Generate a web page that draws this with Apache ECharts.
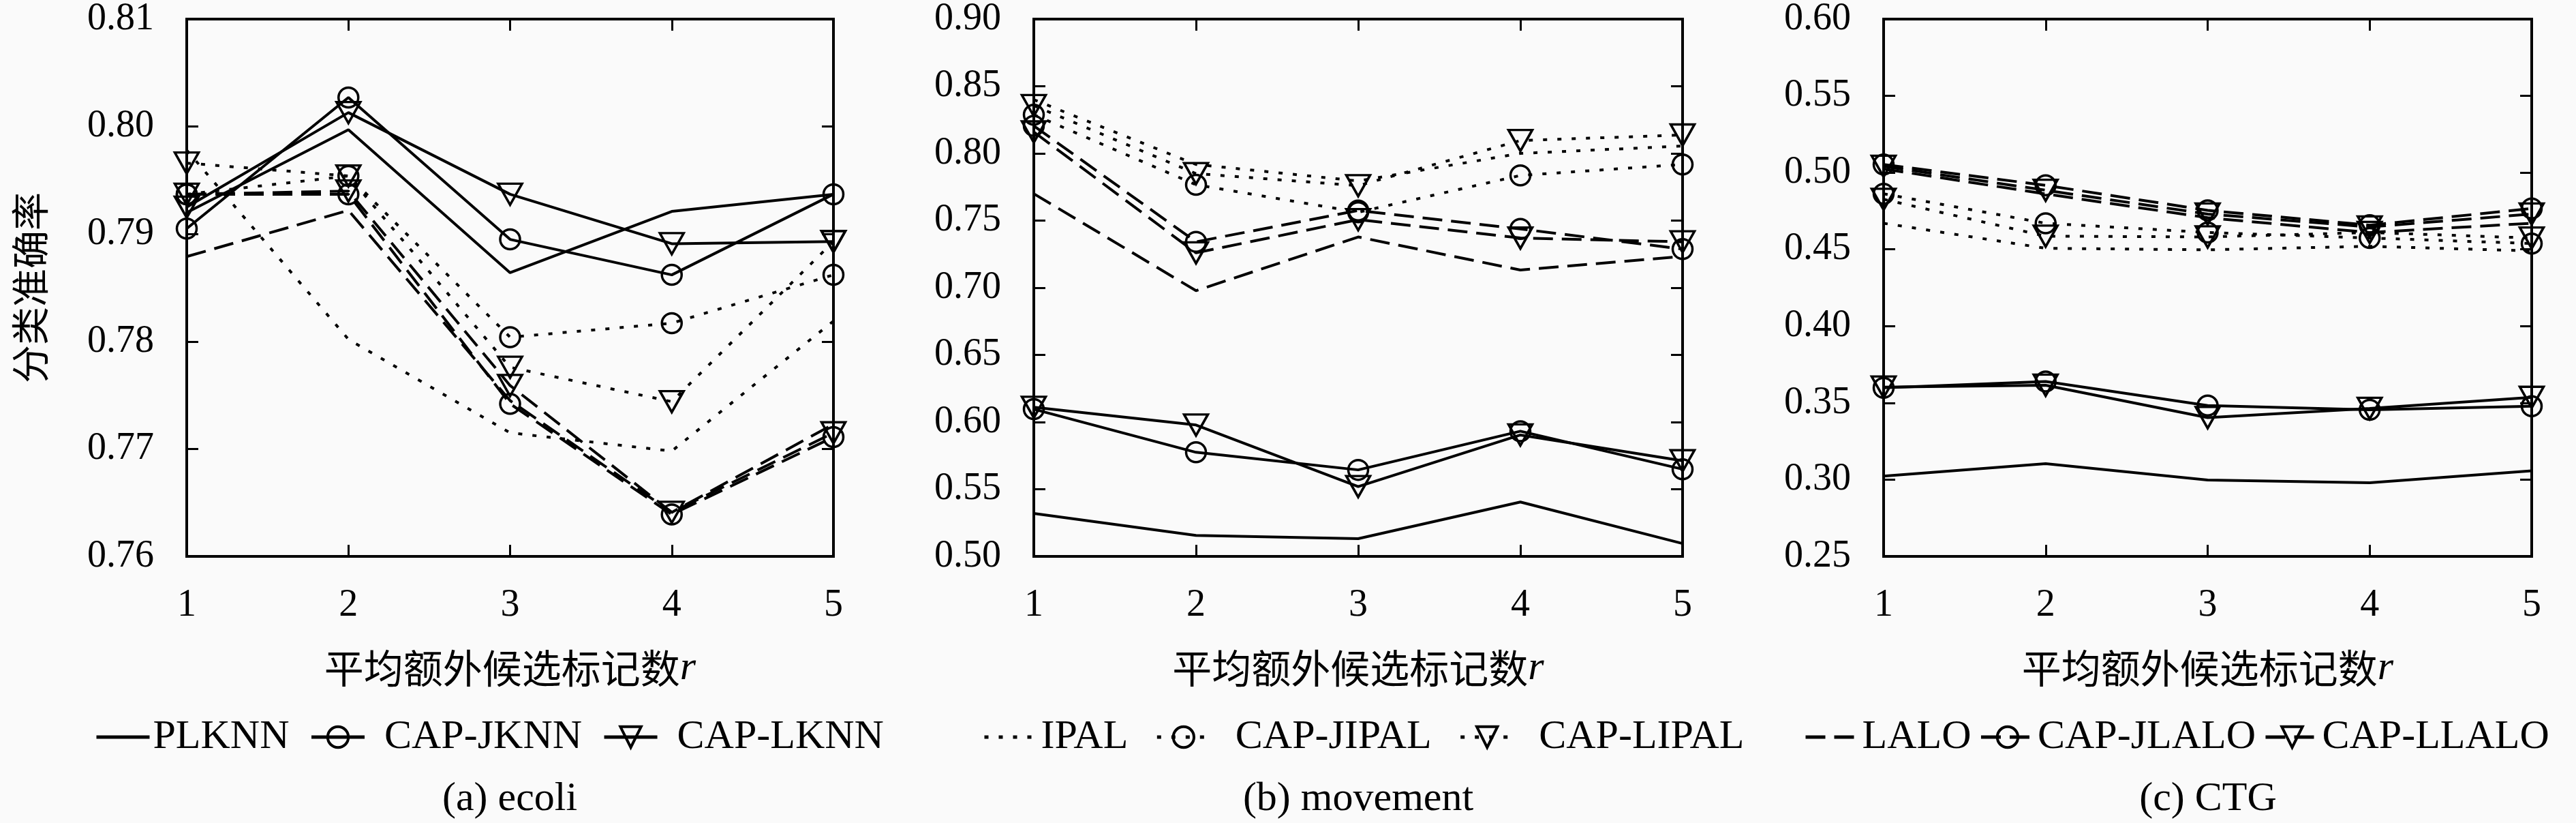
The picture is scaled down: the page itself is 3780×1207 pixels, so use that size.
<!DOCTYPE html>
<html>
<head>
<meta charset="utf-8">
<script src="https://cdn.jsdelivr.net/npm/echarts@6/dist/echarts.min.js"></script>
<style>
html, body { margin: 0; padding: 0; background: #fafafa; }
#main { width: 3780px; height: 1207px; }
</style>
</head>
<body>
<div id="main"></div>
<script>
// x 轴：平均额外候选标记数 r
var rLabels = ['1', '2', '3', '4', '5'];
var methodNames = ['PLKNN', 'CAP-JKNN', 'CAP-LKNN', 'IPAL', 'CAP-JIPAL', 'CAP-LIPAL', 'LALO', 'CAP-JLALO', 'CAP-LLALO'];

// (a) ecoli
var ecoli_PLKNN     = [0.7920, 0.7997, 0.7864, 0.7921, 0.7937];
var ecoli_CAP_JKNN  = [0.7905, 0.8027, 0.7895, 0.7862, 0.7937];
var ecoli_CAP_LKNN  = [0.7925, 0.8013, 0.7937, 0.7891, 0.7893];
var ecoli_IPAL      = [0.7978, 0.7802, 0.7715, 0.7698, 0.7819];
var ecoli_CAP_JIPAL = [0.7937, 0.7954, 0.7804, 0.7817, 0.7862];
var ecoli_CAP_LIPAL = [0.7966, 0.7954, 0.7776, 0.7744, 0.7893];
var ecoli_LALO      = [0.7879, 0.7922, 0.7745, 0.7641, 0.7723];
var ecoli_CAP_JLALO = [0.7937, 0.7937, 0.7742, 0.7639, 0.7711];
var ecoli_CAP_LLALO = [0.7937, 0.7940, 0.7759, 0.7641, 0.7715];

// (b) movement
var movement_PLKNN     = [0.5320, 0.5156, 0.5132, 0.5405, 0.5096];
var movement_CAP_JKNN  = [0.6096, 0.5775, 0.5644, 0.5932, 0.5649];
var movement_CAP_LKNN  = [0.6110, 0.5978, 0.5520, 0.5904, 0.5712];
var movement_IPAL      = [0.8400, 0.7918, 0.7795, 0.8000, 0.8055];
var movement_CAP_JIPAL = [0.8288, 0.7767, 0.7562, 0.7836, 0.7918];
var movement_CAP_LIPAL = [0.8356, 0.7850, 0.7760, 0.8096, 0.8137];
var movement_LALO      = [0.7700, 0.6978, 0.7378, 0.7132, 0.7233];
var movement_CAP_JLALO = [0.8205, 0.7342, 0.7575, 0.7438, 0.7288];
var movement_CAP_LLALO = [0.8160, 0.7260, 0.7507, 0.7370, 0.7342];

// (c) CTG
var ctg_PLKNN     = [0.3023, 0.3104, 0.2997, 0.2980, 0.3057];
var ctg_CAP_JKNN  = [0.3598, 0.3639, 0.3483, 0.3455, 0.3478];
var ctg_CAP_LKNN  = [0.3603, 0.3615, 0.3404, 0.3464, 0.3536];
var ctg_IPAL      = [0.4670, 0.4507, 0.4497, 0.4520, 0.4490];
var ctg_CAP_JIPAL = [0.4862, 0.4670, 0.4610, 0.4574, 0.4538];
var ctg_CAP_LIPAL = [0.4826, 0.4586, 0.4581, 0.4610, 0.4574];
var ctg_LALO      = [0.5024, 0.4861, 0.4706, 0.4610, 0.4670];
var ctg_CAP_JLALO = [0.5053, 0.4917, 0.4754, 0.4658, 0.4766];
var ctg_CAP_LLALO = [0.5041, 0.4885, 0.4730, 0.4646, 0.4730];

// y 轴范围 [min, max, interval]
var ecoliRange    = [0.76, 0.81, 0.01];
var movementRange = [0.50, 0.90, 0.05];
var ctgRange      = [0.25, 0.60, 0.05];

var panelTitles = ['(a) ecoli', '(b) movement', '(c) CTG'];

var panelData = [
  [ecoli_PLKNN, ecoli_CAP_JKNN, ecoli_CAP_LKNN, ecoli_IPAL, ecoli_CAP_JIPAL, ecoli_CAP_LIPAL, ecoli_LALO, ecoli_CAP_JLALO, ecoli_CAP_LLALO],
  [movement_PLKNN, movement_CAP_JKNN, movement_CAP_LKNN, movement_IPAL, movement_CAP_JIPAL, movement_CAP_LIPAL, movement_LALO, movement_CAP_JLALO, movement_CAP_LLALO],
  [ctg_PLKNN, ctg_CAP_JKNN, ctg_CAP_LKNN, ctg_IPAL, ctg_CAP_JIPAL, ctg_CAP_LIPAL, ctg_LALO, ctg_CAP_JLALO, ctg_CAP_LLALO]
];
var panelRanges = [ecoliRange, movementRange, ctgRange];

var serif = 'Liberation Serif';
var cjk = 'Noto Sans CJK SC';
var bg = '#fafafa';

var grids = [
  { left: 274, top: 24, width: 949, height: 792 },
  { left: 1517, top: 24, width: 952, height: 792 },
  { left: 2764, top: 24, width: 951, height: 792 }
];

// 线型：实线 / 点线 / 虚线
var lineTypes = ['solid', [6, 15], [29, 13]];
// 标记：无 / 圆 / 倒三角
function markerOf(k) {
  if (k === 0) return { symbol: 'none' };
  if (k === 1) return { symbol: 'circle', symbolSize: 29, symbolRotate: 0 };
  return { symbol: 'triangle', symbolSize: [35, 31], symbolRotate: 180 };
}

var tickStyle = { show: true, inside: true, length: 17, lineStyle: { color: '#000', width: 3 } };
var xAxes = [], yAxes = [], series = [];
for (var p = 0; p < 3; p++) {
  grids[p].show = true;
  grids[p].borderColor = '#000';
  grids[p].borderWidth = 4;
  grids[p].backgroundColor = 'transparent';
  var rg = panelRanges[p];
  // 下 x 轴
  xAxes.push({
    gridIndex: p, type: 'category', data: rLabels, boundaryGap: false, position: 'bottom',
    axisLine: { show: false },
    axisTick: tickStyle,
    axisLabel: { color: '#000', fontFamily: serif, fontSize: 56, margin: 44 },
    splitLine: { show: false },
    name: '平均额外候选标记数{r|r}', nameLocation: 'middle', nameGap: 134,
    nameTextStyle: {
      color: '#000', fontFamily: cjk, fontSize: 58,
      rich: { r: { fontFamily: serif, fontStyle: 'italic', fontSize: 60, color: '#000' } }
    }
  });
  // 左 y 轴
  yAxes.push({
    gridIndex: p, type: 'value', min: rg[0], max: rg[1], interval: rg[2], position: 'left',
    axisLine: { show: false },
    axisTick: tickStyle,
    axisLabel: {
      color: '#000', fontFamily: serif, fontSize: 56, margin: 48,
      formatter: function (v) { return v.toFixed(2); }
    },
    splitLine: { show: false },
    name: p === 0 ? '分类准确率' : '', nameLocation: 'middle', nameRotate: 90, nameGap: 202,
    nameTextStyle: { color: '#000', fontFamily: cjk, fontSize: 56 }
  });
}
// 上 / 右 镜像刻度
for (var q = 0; q < 3; q++) {
  var rq = panelRanges[q];
  xAxes.push({
    gridIndex: q, type: 'category', data: rLabels, boundaryGap: false, position: 'top',
    axisLine: { show: false }, axisLabel: { show: false }, splitLine: { show: false },
    axisTick: tickStyle
  });
  yAxes.push({
    gridIndex: q, type: 'value', min: rq[0], max: rq[1], interval: rq[2], position: 'right',
    axisLine: { show: false }, axisLabel: { show: false }, splitLine: { show: false },
    axisTick: tickStyle
  });
}

var hollow = { color: 'rgba(0,0,0,0)', borderColor: '#000', borderWidth: 3.5 };
for (var pi = 0; pi < 3; pi++) {
  for (var m = 0; m < 9; m++) {
    var mk = markerOf(m % 3);
    series.push({
      name: methodNames[m],
      type: 'line',
      xAxisIndex: pi,
      yAxisIndex: pi,
      data: panelData[pi][m],
      symbol: mk.symbol,
      symbolSize: mk.symbolSize,
      symbolRotate: mk.symbolRotate,
      showSymbol: mk.symbol !== 'none',
      lineStyle: { color: '#000', width: 4, type: lineTypes[Math.floor(m / 3)] },
      itemStyle: hollow,
      emphasis: { disabled: true },
      z: 3
    });
  }
}

// 图例：每组三个，线型相同
function legendItems(group, pad) {
  return [0, 1, 2].map(function (k) {
    var m = group * 3 + k;
    var item = {
      name: methodNames[m],
      lineStyle: { color: '#000', width: 5, type: lineTypes[group], opacity: 1 },
      textStyle: { padding: [0, 0, 0, k === 0 ? 0 : pad] }
    };
    if (k === 0) {
      item.itemStyle = { color: 'rgba(0,0,0,0)', borderWidth: 0, opacity: 0 };
    } else {
      item.itemStyle = { color: 'rgba(0,0,0,0)', borderColor: '#000', borderWidth: 4, opacity: 1 };
      item.symbolRotate = k === 2 ? 180 : 0;
    }
    return item;
  });
}
var legendBase = {
  orient: 'horizontal', top: 1046, itemWidth: 78, itemHeight: 38,
  textStyle: { color: '#000', fontFamily: serif, fontSize: 60 },
  selectedMode: false
};
var legends = [
  Object.assign({}, legendBase, { left: 134, itemGap: 30, data: legendItems(0, 24) }),
  Object.assign({}, legendBase, { left: 1437, itemGap: 40, data: legendItems(1, 32) }),
  Object.assign({}, legendBase, { left: 2642, itemGap: 12, data: legendItems(2, 0) })
];

var centers = [748, 1993, 3240];
var graphics = panelTitles.map(function (t, i) {
  return {
    type: 'text', x: centers[i], y: 1172,
    style: { text: t, fill: '#000', font: '60px "Liberation Serif"', textAlign: 'center', textVerticalAlign: 'middle' }
  };
});

var chart = echarts.init(document.getElementById('main'));
chart.setOption({
  backgroundColor: bg,
  animation: false,
  textStyle: { fontFamily: serif, color: '#000' },
  grid: grids,
  xAxis: xAxes,
  yAxis: yAxes,
  legend: legends,
  graphic: graphics,
  series: series
});
</script>
</body>
</html>
